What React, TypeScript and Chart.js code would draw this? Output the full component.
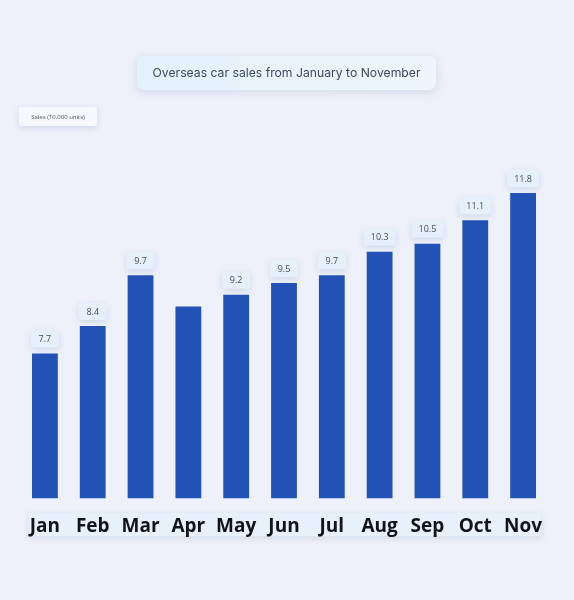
import { useEffect, useRef } from "react";
import { Chart, registerables } from "chart.js";

Chart.register(...registerables);

const TITLE = "Overseas car sales from January to November";
const SERIES_NAME = "Sales (10,000 units)";
const months = ["Jan", "Feb", "Mar", "Apr", "May", "Jun", "Jul", "Aug", "Sep", "Oct", "Nov"];
const sales = [7.7, 8.4, 9.7, 8.9, 9.2, 9.5, 9.7, 10.3, 10.5, 11.1, 11.8];
// Apr has no readable label in the picture
const valueLabels = ["7.7", "8.4", "9.7", null, "9.2", "9.5", "9.7", "10.3", "10.5", "11.1", "11.8"];

function roundRect(ctx: CanvasRenderingContext2D, x: number, y: number, w: number, h: number, r: number) {
  ctx.beginPath();
  ctx.moveTo(x + r, y);
  ctx.arcTo(x + w, y, x + w, y + h, r);
  ctx.arcTo(x + w, y + h, x, y + h, r);
  ctx.arcTo(x, y + h, x, y, r);
  ctx.arcTo(x, y, x + w, y, r);
  ctx.closePath();
}

function softBox(ctx: CanvasRenderingContext2D, x: number, y: number, w: number, h: number, r: number, fill: string | CanvasGradient, blur = 8) {
  ctx.save();
  ctx.shadowColor = "rgba(120, 140, 180, 0.25)";
  ctx.shadowBlur = blur;
  ctx.shadowOffsetY = 2;
  roundRect(ctx, x, y, w, h, r);
  ctx.fillStyle = fill;
  ctx.fill();
  ctx.restore();
}

const decorPlugin = {
  id: "decor",
  beforeDraw(chart: Chart) {
    const ctx = chart.ctx;
    const area = chart.chartArea;
    // title box
    const g = ctx.createLinearGradient(137, 0, 436, 0);
    g.addColorStop(0, "#e3f1fb");
    g.addColorStop(1, "#eef5fc");
    softBox(ctx, 137, 56, 299, 34, 7, g, 10);
    ctx.save();
    ctx.fillStyle = "#3c4a5c";
    ctx.font = "12.2px Inter, 'Open Sans', sans-serif";
    ctx.textAlign = "center";
    ctx.textBaseline = "middle";
    ctx.fillText(TITLE, 286.5, 73);
    ctx.restore();

    // legend box
    softBox(ctx, 19, 107, 78, 19, 3, "#f7f8fd", 6);
    ctx.save();
    ctx.fillStyle = "#4a4f5a";
    ctx.font = "6px 'Open Sans', sans-serif";
    ctx.textAlign = "center";
    ctx.textBaseline = "middle";
    ctx.fillText(SERIES_NAME, 58, 117);
    ctx.restore();

    // strip behind the month labels
    softBox(ctx, 29, area.bottom + 15, 512, 23, 2, "#e8f1fb", 6);
  },
  afterDatasetsDraw(chart: Chart) {
    const ctx = chart.ctx;
    const meta = chart.getDatasetMeta(0);
    ctx.save();
    ctx.font = "9px 'Open Sans', sans-serif";
    meta.data.forEach((bar: any, i: number) => {
      const txt = valueLabels[i];
      if (!txt) return;
      const w = Math.max(28, ctx.measureText(txt).width + 14);
      const h = 17;
      const x = bar.x - w / 2;
      const y = bar.y - 6 - h;
      softBox(ctx, x, y, w, h, 3, "#e5f0fb", 6);
      ctx.fillStyle = "#46505e";
      ctx.textAlign = "center";
      ctx.textBaseline = "middle";
      ctx.fillText(txt, bar.x, y + h / 2 + 0.5);
    });
    ctx.restore();
  },
};

export default function App() {
  const chartRef = useRef<HTMLCanvasElement>(null);
  const chartInstance = useRef<Chart | null>(null);

  useEffect(() => {
    document.body.style.margin = "0";
    if (!chartRef.current) return;
    if (chartInstance.current) chartInstance.current.destroy();
    const ctx = chartRef.current.getContext("2d");
    if (!ctx) return;

    chartInstance.current = new Chart(ctx, {
      type: "bar",
      data: {
        labels: months,
        datasets: [
          {
            label: SERIES_NAME,
            data: sales,
            backgroundColor: "#2352b6",
            borderWidth: 0,
            barPercentage: 0.54,
            categoryPercentage: 1,
          },
        ],
      },
      options: {
        responsive: true,
        maintainAspectRatio: false,
        animation: false,
        layout: { padding: { left: 21, right: 27, top: 146, bottom: 45 } },
        scales: {
          x: {
            grid: { display: false, drawTicks: false },
            border: { display: false },
            ticks: {
              padding: 17,
              color: "#111418",
              font: { family: "'Open Sans', sans-serif", size: 19, weight: "bold" },
            },
          },
          y: {
            display: false,
            min: 4,
            max: 13,
          },
        },
        plugins: {
          legend: { display: false },
          tooltip: { enabled: false },
        },
      },
      plugins: [decorPlugin],
    });

    return () => {
      if (chartInstance.current) {
        chartInstance.current.destroy();
        chartInstance.current = null;
      }
    };
  }, []);

  return (
    <div style={{ width: 574, height: 600, background: "#eef1fa", position: "relative" }}>
      <canvas ref={chartRef} />
    </div>
  );
}
